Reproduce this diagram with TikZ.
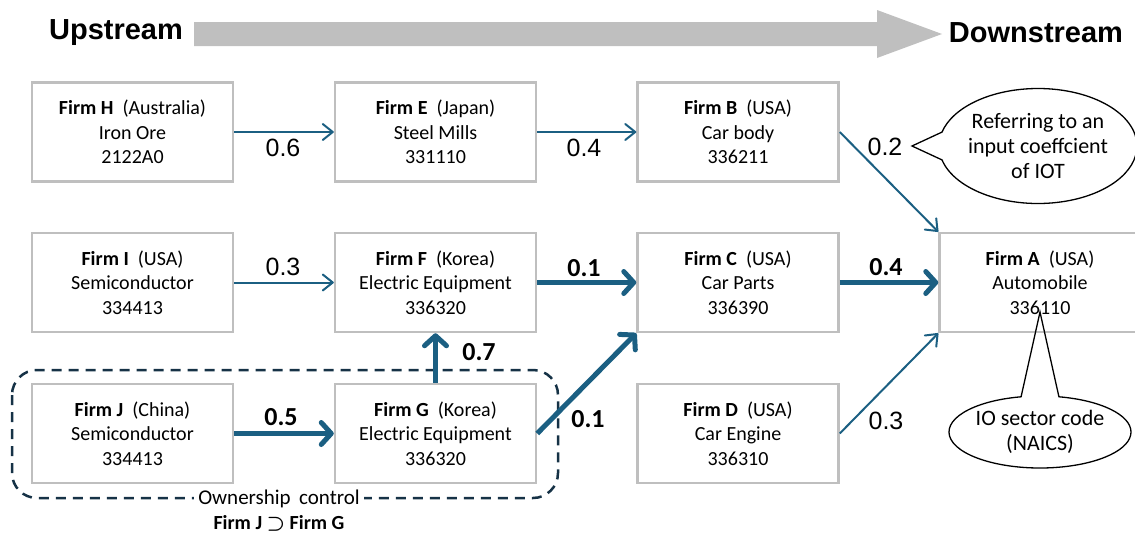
\documentclass[tikz,border=0pt]{standalone}
\usepackage{fontspec}
\setmainfont{Carlito}
\newfontfamily\arialfont{Liberation Sans}
\usetikzlibrary{arrows.meta,shapes.callouts}
\definecolor{arrowblue}{RGB}{27,95,130}
\definecolor{boxgray}{RGB}{191,191,191}
\definecolor{navyd}{RGB}{22,50,70}
\tikzset{
  firm/.style={draw=boxgray, line width=2.5pt, fill=white, minimum width=201pt, minimum height=99pt,
    inner sep=0pt, align=center, font=\fontsize{20}{24.5}\selectfont},
  thinarr/.style={draw=arrowblue, line width=2pt, -{Straight Barb[length=10pt,width=16pt,round]}},
  thickarr/.style={draw=arrowblue, line width=5pt, -{Straight Barb[length=10pt,width=22pt,round]}},
  thinlbl/.style={font=\arialfont\fontsize{25}{30}\selectfont, inner sep=1pt},
  boldlbl/.style={font=\bfseries\fontsize{26}{30}\selectfont, inner sep=1pt},
  callbox/.style={ellipse callout, draw=black, line width=1.3pt, align=center, inner sep=0pt,
    font=\fontsize{22}{25}\selectfont},
  headtxt/.style={font=\arialfont\bfseries\fontsize{29}{32}\selectfont, inner sep=0pt},
}
\begin{document}
\begin{tikzpicture}[x=1pt,y=-1pt]
\useasboundingbox (0,0) rectangle (1135,538);
\clip (0,0) rectangle (1135,538);
% header
\fill[boxgray] (194,22) -- (877,22) -- (877,10) -- (942,34) -- (877,58) -- (877,46) -- (194,46) -- cycle;
\node[headtxt] (up) at (116,33) {Upstream};
\node[headtxt] (down) at (1036,33) {Downstream};
% ownership group
\draw[navyd, line width=2.5pt, dash pattern=on 10pt off 7pt, rounded corners=25pt] (12,370) rectangle (558,498);
\node[fill=white, inner sep=4pt, font=\fontsize{21}{24}\selectfont] (own) at (279,499) {Ownership\hspace{0.4em}control};
\node[inner sep=0pt, font=\bfseries\boldmath\fontsize{20}{24}\selectfont] (jg) at (279,523) {Firm J $\supset$ Firm G};
% firms
\node[firm] (H) at (132.5,132) {\textbf{Firm H}\hspace{0.45em}(Australia)\\Iron Ore\\2122A0};
\node[firm] (E) at (435.5,132) {\textbf{Firm E}\hspace{0.45em}(Japan)\\Steel Mills\\331110};
\node[firm] (B) at (738,132) {\textbf{Firm B}\hspace{0.45em}(USA)\\Car body\\336211};
\node[firm] (I) at (132.5,282.5) {\textbf{Firm I}\hspace{0.45em}(USA)\\Semiconductor\\334413};
\node[firm] (F) at (435.5,282.5) {\textbf{Firm F}\hspace{0.45em}(Korea)\\Electric Equipment\\336320};
\node[firm] (C) at (738,282.5) {\textbf{Firm C}\hspace{0.45em}(USA)\\Car Parts\\336390};
\node[firm] (A) at (1040,282.5) {\textbf{Firm A}\hspace{0.45em}(USA)\\Automobile\\336110};
\node[firm] (J) at (132.5,433.5) {\textbf{Firm J}\hspace{0.45em}(China)\\Semiconductor\\334413};
\node[firm] (G) at (435.5,433.5) {\textbf{Firm G}\hspace{0.45em}(Korea)\\Electric Equipment\\336320};
\node[firm] (D) at (738,433.5) {\textbf{Firm D}\hspace{0.45em}(USA)\\Car Engine\\336310};
% connectors
\draw[thinarr] (H.east) -- (E.west);
\draw[thinarr] (E.east) -- (B.west);
\draw[thinarr] (B.east) -- (A.north west);
\draw[thinarr] (I.east) -- (F.west);
\draw[thickarr] (F.east) -- (C.west);
\draw[thickarr] (C.east) -- (A.west);
\draw[thickarr] (J.east) -- (G.west);
\draw[thickarr] (G.north) -- (F.south);
\draw[thickarr] (G.east) -- (C.south west);
\draw[thinarr] (D.east) -- (A.south west);
% labels
\node[thinlbl] (l1) at (283,148) {0.6};
\node[thinlbl] (l2) at (584,148) {0.4};
\node[thinlbl] (l3) at (885,147) {0.2};
\node[thinlbl] (l4) at (283,267) {0.3};
\node[boldlbl] (l5) at (584,268) {0.1};
\node[boldlbl] (l6) at (886,267) {0.4};
\node[boldlbl] (l7) at (281,417) {0.5};
\node[boldlbl] (l8) at (479,352) {0.7};
\node[boldlbl] (l9) at (588,419) {0.1};
\node[thinlbl] (l10) at (886,421) {0.3};
% callouts
\coordinate (p1) at (912,146);
\coordinate (p2) at (1040,312);
\node[callbox, minimum width=190pt, minimum height=115pt, callout absolute pointer=(p1), callout pointer arc=28] (c1) at (1038,146) {Referring to an\\input coeffcient\\of IOT};
\node[callbox, minimum width=182pt, minimum height=72pt, callout absolute pointer=(p2), callout pointer arc=24] (c2) at (1040,432) {IO sector code\\(NAICS)};
\end{tikzpicture}
\end{document}
